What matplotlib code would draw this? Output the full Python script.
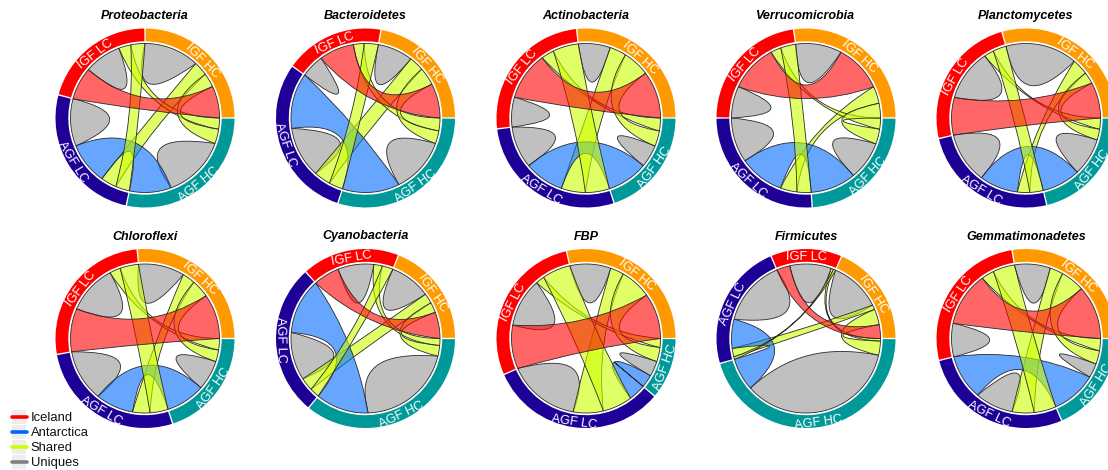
import numpy as np
import matplotlib
matplotlib.use("Agg")
import matplotlib.pyplot as plt
from matplotlib.path import Path
from matplotlib.patches import PathPatch, Wedge, Rectangle
from matplotlib.lines import Line2D

W, H = 1108, 470
plt.rcParams['font.family'] = ['Liberation Sans', 'DejaVu Sans']

phyla = ['Proteobacteria', 'Bacteroidetes', 'Actinobacteria', 'Verrucomicrobia', 'Planctomycetes',
         'Chloroflexi', 'Cyanobacteria', 'FBP', 'Firmicutes', 'Gemmatimonadetes']
sectors = ['IGF HC', 'IGF LC', 'AGF LC', 'AGF HC']
sector_colors = ['#FF9900', '#FF0000', '#1F0096', '#009999']

# link-end widths (degrees of circle). R: IGF LC-IGF HC, B: AGF LC-AGF HC,
# a: IGF HC-AGF HC, b: IGF HC-AGF LC, c: IGF LC-AGF HC, d: IGF LC-AGF LC, G: self
ihc_R = [25, 27, 37, 37.2, 28, 35, 20.6, 35.6, 10.8, 42]
ihc_a = [11, 14, 21, 11.4, 9, 14, 8, 24.4, 12.2, 18.6]
ihc_b = [11, 11.5, 13, 13.4, 12.6, 10, 7.8, 10.6, 3.6, 10.4]
ihc_G = [43, 27.5, 25, 36, 56, 36, 32, 32, 40, 28]
ilc_d = [11, 11, 20, 11.8, 10.4, 14.5, 8.5, 22.1, 1.8, 17]
ilc_c = [9.5, 8.4, 10, 8.2, 7.6, 8.5, 6.6, 6.8, 1.8, 10]
ilc_G = [29, 18, 23.2, 24.8, 40.4, 38.6, 28.1, 38.1, 32.4, 26]
ilc_R = [25.5, 27.3, 37.8, 37.2, 29.3, 33.7, 20.3, 34.1, 10.4, 42.3]
alc_G = [37, 40, 32.7, 35, 40, 40.6, 37.5, 56.3, 52, 29.7]
alc_B = [32.6, 43.3, 31, 35, 30, 29.4, 43.4, 13.3, 22.7, 35.3]
alc_b = [12.3, 13, 18.8, 13, 9.7, 13.6, 10.2, 23.5, 6.6, 17.2]
alc_d = [11, 11, 18.8, 11, 10.4, 14.1, 7.6, 23.2, 1.9, 17.2]
ahc_B = [32.6, 44.6, 31.9, 35.5, 30, 30.6, 41.4, 10, 25.5, 35.3]
ahc_G = [49.5, 43.4, 17.7, 30.2, 29.5, 23.4, 74.3, 12, 125.3, 11.2]
ahc_a = [11.3, 10, 12, 11.6, 8.4, 9, 8.3, 11, 11, 10.4]
ahc_c = [8.7, 10, 10.1, 8.7, 8.7, 9, 5.4, 7, 2, 9.6]

# counter-clockwise order of the link ends inside each sector
order_ihc = ['RabG', 'RabG', 'RabG', 'abRG', 'RabG', 'RabG', 'RabG', 'RabG', 'RabG', 'RabG']
order_ilc = ['dcGR', 'dcRG', 'dcRG', 'dcRG', 'dcGR', 'dcGR', 'dcGR', 'dcGR', 'dcGR', 'dcRG']
order_alc = ['GBbd', 'BGbd', 'GBbd', 'GBbd', 'GBbd', 'GBbd', 'BGbd', 'GbdB', 'GBbd', 'BGbd']
order_ahc = ['BGac'] * 10

# where the tip of each grey self-link sits within its span (0..1)
tip_ihc = [.85, .58, .40, .67, .60, .80, .60, .42, .33, .26]
tip_ilc = [.50, .65, .50, .38, .35, .44, .65, .66, .48, .54]
tip_alc = [.45, .85, .70, .65, .62, .80, .80, .75, .25, .90]
tip_ahc = [.15, .40, .50, .35, .53, .47, .25, .50, .45, .50]

legend_labels = ['Iceland', 'Antarctica', 'Shared', 'Uniques']
legend_colors = ['#FF0000', '#0066FF', '#CCFF00', '#808080']

link_fill = {'R': (1, 0, 0, .6), 'B': (0, .42, 1, .6), 'a': (.8, 1, 0, .6), 'b': (.8, 1, 0, .6),
             'c': (.8, 1, 0, .6), 'd': (.8, 1, 0, .6), 'G': (.59, .59, .59, .6)}
draw_order = ['b', 'B', 'c', 'd', 'a', 'R']
EDGE = '#2a2a2a'
LW = 0.6

centers_x = [145, 365.5, 586, 806, 1026]
centers_y = [118, 338.5]
R_CHORD = 74.5
R_OUT, R_IN = 89.5, 76.7
PAD = 112  # half-size of each panel axes, px

fig = plt.figure(figsize=(W / 100, H / 100), dpi=100)


def pt(deg, r=1.0):
    t = np.deg2rad(deg)
    return np.array([r * np.cos(t), r * np.sin(t)])


def arc(a, b):
    n = max(int(abs(b - a) / 2) + 2, 3)
    return [pt(x) for x in np.linspace(a, b, n)]


def control(p, q):
    """Control point of a link edge: the centre for shorter spans, nearer the chord for long ones."""
    span = np.degrees(np.arccos(np.clip(p @ q, -1, 1)))
    k = 0.7 * np.clip((span - 115) / 45.0, 0, 1)
    return k * (p + q) / 2


def ribbon(ax, e1, e2, color):
    verts, codes = [], []
    a = arc(*e1)
    verts += a
    codes += [Path.MOVETO] + [Path.LINETO] * (len(a) - 1)
    b = arc(*e2)
    verts += [control(a[-1], b[0]), b[0]]
    codes += [Path.CURVE3, Path.CURVE3]
    verts += b[1:]
    codes += [Path.LINETO] * (len(b) - 1)
    verts += [control(b[-1], a[0]), a[0]]
    codes += [Path.CURVE3, Path.CURVE3]
    ax.add_patch(PathPatch(Path(verts, codes), facecolor=color, edgecolor=EDGE, lw=LW))


def petal(ax, s, e, frac, color):
    a = arc(s, e)
    p0, p3 = a[-1], a[0]
    rho = 0.5 * np.cos(np.deg2rad((e - s) / 2))
    tip = pt(s + frac * (e - s), rho)
    c = (tip - 0.125 * (p0 + p3)) / 0.75
    u = p3 - p0
    c1, c2 = c - 0.15 * u, c + 0.15 * u
    verts = a + [c1, c2, p3]
    codes = [Path.MOVETO] + [Path.LINETO] * (len(a) - 1) + [Path.CURVE4] * 3
    ax.add_patch(PathPatch(Path(verts, codes), facecolor=color, edgecolor=EDGE, lw=LW))


for i, name in enumerate(phyla):
    cx = centers_x[i % 5]
    cy = centers_y[i // 5]
    ax = fig.add_axes([(cx - PAD) / W, 1 - (cy + PAD) / H, 2 * PAD / W, 2 * PAD / H])
    lim = PAD / R_CHORD
    ax.set_xlim(-lim, lim)
    ax.set_ylim(-lim, lim)
    ax.axis('off')

    sec_w = [
        {'R': ihc_R[i], 'a': ihc_a[i], 'b': ihc_b[i], 'G': ihc_G[i]},
        {'d': ilc_d[i], 'c': ilc_c[i], 'G': ilc_G[i], 'R': ilc_R[i]},
        {'G': alc_G[i], 'B': alc_B[i], 'b': alc_b[i], 'd': alc_d[i]},
        {'B': ahc_B[i], 'G': ahc_G[i], 'a': ahc_a[i], 'c': ahc_c[i]},
    ]
    orders = [order_ihc[i], order_ilc[i], order_alc[i], order_ahc[i]]
    tips = [tip_ihc[i], tip_ilc[i], tip_alc[i], tip_ahc[i]]
    total = sum(sum(d.values()) for d in sec_w)
    scale = 360.0 / total

    pos = 0.0
    ends = {}
    spans = []
    for s in range(4):
        start = pos
        for key in orders[s]:
            w = sec_w[s][key] * scale
            ends[(s, key)] = (pos, pos + w)
            pos += w
        spans.append((start, pos))

    # grey self links
    for s in range(4):
        petal(ax, *ends[(s, 'G')], tips[s], link_fill['G'])

    # chords
    pairs = {'R': (0, 1), 'B': (2, 3), 'a': (0, 3), 'b': (0, 2), 'c': (1, 3), 'd': (1, 2)}
    for key in draw_order:
        s1, s2 = pairs[key]
        ribbon(ax, ends[(s1, key)], ends[(s2, key)], link_fill[key])

    # outer ring and labels
    for s in range(4):
        a, b = spans[s]
        ax.add_patch(Wedge((0, 0), R_OUT / R_CHORD, a + 0.45, b - 0.45,
                           width=(R_OUT - R_IN) / R_CHORD, facecolor=sector_colors[s], edgecolor='none'))
        mid = (a + b) / 2
        upper = 0 < mid < 180
        rot = mid - 90 if upper else mid + 90
        rr = (81.0 if upper else 85.0) / R_CHORD
        p = pt(mid, rr)
        ax.text(p[0], p[1], sectors[s], color='white', fontsize=9.2, rotation=rot,
                rotation_mode='anchor', ha='center', va='center')

    ax.text(0, 99 / R_CHORD, name, fontsize=9.0, fontweight='bold', fontstyle='italic',
            ha='center', va='baseline', color='black')

# legend
lax = fig.add_axes([0, 0, 1, 1], zorder=-1)
lax.set_xlim(0, W)
lax.set_ylim(H, 0)
lax.axis('off')
legend_y = [417, 432, 447, 462]
for y, lab, col in zip(legend_y, legend_labels, legend_colors):
    lax.add_patch(Rectangle((12, y - 7.2), 14, 14.4, facecolor='#EDEDED', edgecolor='none'))
    lax.add_line(Line2D([12, 27], [y, y], color=col, lw=2.6, solid_capstyle='round'))
    lax.text(30.5, y + 0.6, lab, fontsize=9.4, ha='left', va='center', color='#111111')

fig.savefig('out.png', dpi=100)
